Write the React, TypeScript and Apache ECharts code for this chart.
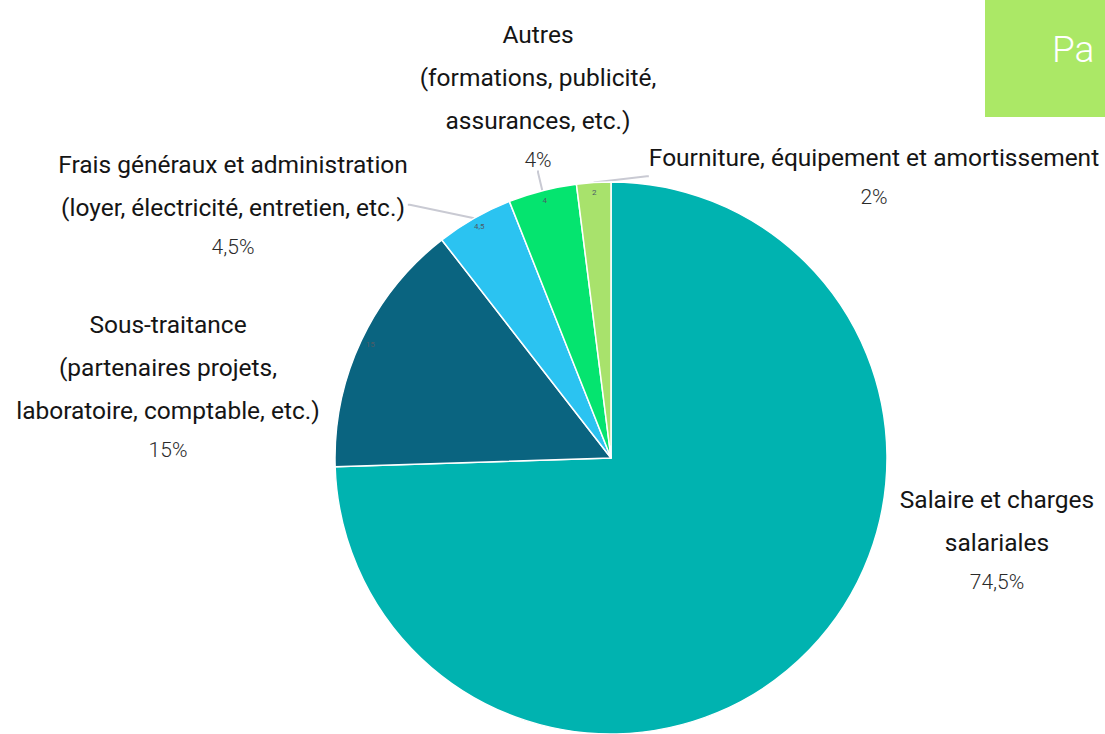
import React, { useEffect, useRef } from "react";
import * as echarts from "echarts";

// Data
const categories: string[] = [
  "Salaire et charges\nsalariales",
  "Sous-traitance\n(partenaires projets,\nlaboratoire, comptable, etc.)",
  "Frais généraux et administration\n(loyer, électricité, entretien, etc.)",
  "Autres\n(formations, publicité,\nassurances, etc.)",
  "Fourniture, équipement et amortissement",
];
const values: number[] = [74.5, 15, 4.5, 4, 2];
const colors: string[] = ["#00B3B0", "#0A6480", "#2BC3F1", "#05E46F", "#A8E26C"];
const showLine: boolean[] = [false, false, true, true, true];
const showInner: boolean[] = [false, true, true, true, true];

// Label layout (centre x, top y of each text block)
const labelX: number[] = [997, 168, 233, 538, 874];
const labelY: number[] = [478, 303, 143, 13, 136];

const fmt = (v: number) => String(v).replace(".", ",");

export default function App() {
  const ref = useRef<HTMLDivElement>(null);
  useEffect(() => {
    if (!ref.current) return;
    const chart = echarts.init(ref.current, undefined, { renderer: "svg" });
    const font = "Roboto, 'Liberation Sans', sans-serif";
    chart.setOption({
      animation: false,
      backgroundColor: "#ffffff",
      series: [
        {
          type: "pie",
          center: [611, 458],
          radius: 276,
          startAngle: 90,
          clockwise: true,
          silent: true,
          avoidLabelOverlap: false,
          itemStyle: { borderColor: "#ffffff", borderWidth: 1.5 },
          label: {
            show: true,
            position: "outside",
            formatter: (p: any) => `{n|${categories[p.dataIndex]}}\n{p|${fmt(values[p.dataIndex])}%}`,
            rich: {
              n: { fontFamily: font, fontSize: 24.5, lineHeight: 43, color: "#151515", align: "center" },
              p: { fontFamily: font, fontSize: 21, fontWeight: 300, lineHeight: 36, color: "#2a2a2a", align: "center" },
            },
          },
          labelLine: { show: true, length: 8, length2: 2, lineStyle: { color: "#c9cad3", width: 2 } },
          labelLayout: (params: any) => ({
            x: labelX[params.dataIndex],
            y: labelY[params.dataIndex],
            align: "center",
            verticalAlign: "top",
          }),
          data: values.map((v, i) => ({
            name: categories[i],
            value: v,
            itemStyle: { color: colors[i] },
            labelLine: { show: showLine[i] },
          })),
        },
        {
          type: "pie",
          center: [611, 458],
          radius: [250, 276],
          startAngle: 90,
          clockwise: true,
          silent: true,
          itemStyle: { color: "rgba(0,0,0,0)", borderWidth: 0 },
          label: {
            position: "inside",
            fontSize: 8,
            color: "#4d5c66",
            fontFamily: "Roboto, sans-serif",
            formatter: (p: any) => fmt(values[p.dataIndex]),
          },
          labelLine: { show: false },
          data: values.map((v, i) => ({
            name: categories[i],
            value: v,
            label: { show: showInner[i] },
          })),
        },
      ],
      graphic: [
        {
          type: "rect",
          shape: { x: 985, y: 0, width: 130, height: 117 },
          style: { fill: "#ABE866" },
          silent: true,
        },
        {
          type: "text",
          x: 1052,
          y: 31,
          style: {
            text: "Pa",
            fill: "#ffffff",
            fontSize: 37,
            fontWeight: 300,
            fontFamily: "Roboto, sans-serif",
          },
          silent: true,
        },
      ],
    });
    return () => chart.dispose();
  }, []);
  return (
    <div
      ref={ref}
      style={{ position: "absolute", left: 0, top: 0, width: 1105, height: 734 }}
    />
  );
}
